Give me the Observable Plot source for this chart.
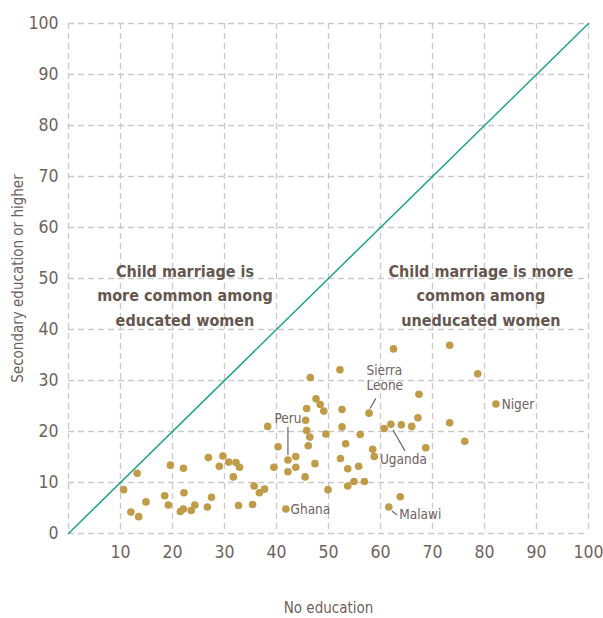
<!DOCTYPE html>
<html><head><meta charset="utf-8">
<script src="https://cdn.jsdelivr.net/npm/d3@7"></script>
<script src="https://cdn.jsdelivr.net/npm/@observablehq/plot@0.6"></script>
<style>body{margin:0;background:#fff}
svg text{font-stretch:condensed}</style>
</head><body><div id="chart"></div>
<script>
// Share of women married as children (%), by education level, per country
const noEducation = [13.2,10.6,12.0,13.5,14.9,19.6,22.1,18.5,19.2,22.2,21.5,22.1,23.6,24.3,26.7,27.5,26.9,29.0,29.7,30.8,32.2,32.9,31.7,32.7,38.3,40.3,39.5,42.2,43.7,42.2,43.7,45.5,41.8,35.7,36.7,37.7,35.4,46.5,47.6,48.4,49.1,45.8,45.6,45.8,46.4,46.1,49.5,47.4,49.9,52.2,52.6,52.6,53.3,52.3,53.7,55.8,53.7,54.9,56.9,56.1,57.8,58.5,58.8,60.7,62.0,64.0,66.0,62.5,63.8,61.6,73.3,78.7,67.4,82.2,67.2,73.3,76.2,68.7];
const secondaryOrHigher = [11.8,8.6,4.2,3.3,6.2,13.4,12.8,7.4,5.6,8.0,4.3,4.8,4.5,5.6,5.2,7.1,14.9,13.2,15.2,14.0,13.9,13.0,11.1,5.5,21.0,17.0,13.0,14.4,15.1,12.1,13.0,11.1,4.8,9.3,8.0,8.7,5.7,30.6,26.4,25.3,24.0,24.5,22.2,20.2,18.9,17.2,19.5,13.7,8.6,32.1,24.3,20.9,17.6,14.7,12.7,13.2,9.3,10.2,10.2,19.4,23.6,16.5,15.1,20.6,21.4,21.3,21.0,36.2,7.2,5.2,36.9,31.3,27.3,25.4,22.7,21.7,18.1,16.8];
const xTicks = [10,20,30,40,50,60,70,80,90,100];
const yTicks = [0,10,20,30,40,50,60,70,80,90,100];
const parity = [0, 100];

// Country labels (text position in data units) and leader lines
const labelText = ["Peru","Sierra\nLeone","Uganda","Malawi","Ghana","Niger"];
const labelX =    [42.2, 57.3, 64.4, 63.6, 42.7, 83.3];
const labelY =    [22.6, 30.6, 14.6, 3.9, 4.7, 25.4];
const labelAnchor = ["middle","start","middle","start","start","start"];
const leaderX1 = [42.2, 58.0, 62.4, 62.2];
const leaderY1 = [20.9, 24.5, 20.3, 4.4];
const leaderX2 = [42.2, 59.1, 64.7, 63.2];
const leaderY2 = [15.4, 26.5, 16.2, 3.6];

const noteText = ["Child marriage is\nmore common among\neducated women", "Child marriage is more\ncommon among\nuneducated women"];
const noteX = [22.4, 79.3];
const noteY = [47.1, 47.1];

const FONT = "'DejaVu Sans Condensed', 'Liberation Sans Narrow', 'DejaVu Sans', sans-serif";
const TXT = "#6f625e";
const idx = d3.range(noEducation.length);
const labelIdx = d3.range(labelText.length);
const labelMarks = ["middle", "start"].map(a => Plot.text(labelIdx.filter(i => labelAnchor[i] === a), {
  x: i => labelX[i], y: i => labelY[i], text: i => labelText[i], textAnchor: a,
  fontSize: 13.5, fill: TXT, lineHeight: 1.15
}));

const chart = Plot.plot({
  width: 603, height: 618,
  marginLeft: 68, marginRight: 15, marginTop: 23, marginBottom: 85,
  style: {fontFamily: FONT, color: TXT, background: "#fff", fontStretch: "condensed"},
  x: {domain: [0, 100]},
  y: {domain: [0, 100]},
  marks: [
    Plot.ruleX(d3.range(0, 101, 10), {stroke: "#c9c9c9", strokeWidth: 1.3, strokeDasharray: "6,4"}),
    Plot.ruleY(yTicks, {stroke: "#c9c9c9", strokeWidth: 1.3, strokeDasharray: "6,4"}),
    Plot.line(parity, {x: d => d, y: d => d, stroke: "#1fa28a", strokeWidth: 1.5}),
    Plot.link(d3.range(leaderX1.length), {x1: i => leaderX1[i], y1: i => leaderY1[i], x2: i => leaderX2[i], y2: i => leaderY2[i], stroke: "#6f625e", strokeWidth: 1.2}),
    Plot.dot(idx, {x: i => noEducation[i], y: i => secondaryOrHigher[i], r: 3.8, fill: "#c09b48", stroke: "none"}),
    ...labelMarks,
    Plot.text([0, 1], {x: i => noteX[i], y: i => noteY[i], text: i => noteText[i], fontSize: 16, fontWeight: "bold", fill: "#65574f", lineHeight: 1.53}),
    Plot.axisX({ticks: xTicks, tickSize: 0, tickPadding: 12, fontSize: 17.5, label: null, tickFormat: d => d}),
    Plot.axisY({ticks: yTicks, tickSize: 0, tickPadding: 10, fontSize: 17.5, label: null, tickFormat: d => d}),
    Plot.text(["No education"], {frameAnchor: "bottom", dy: 75, lineAnchor: "middle", textAnchor: "middle", fontSize: 15, fill: TXT}),
    Plot.text(["Secondary education or higher"], {frameAnchor: "left", dx: -50, rotate: -90, textAnchor: "middle", lineAnchor: "middle", fontSize: 15, fill: TXT})
  ]
});
document.getElementById("chart").appendChild(chart);
</script>
</body></html>
